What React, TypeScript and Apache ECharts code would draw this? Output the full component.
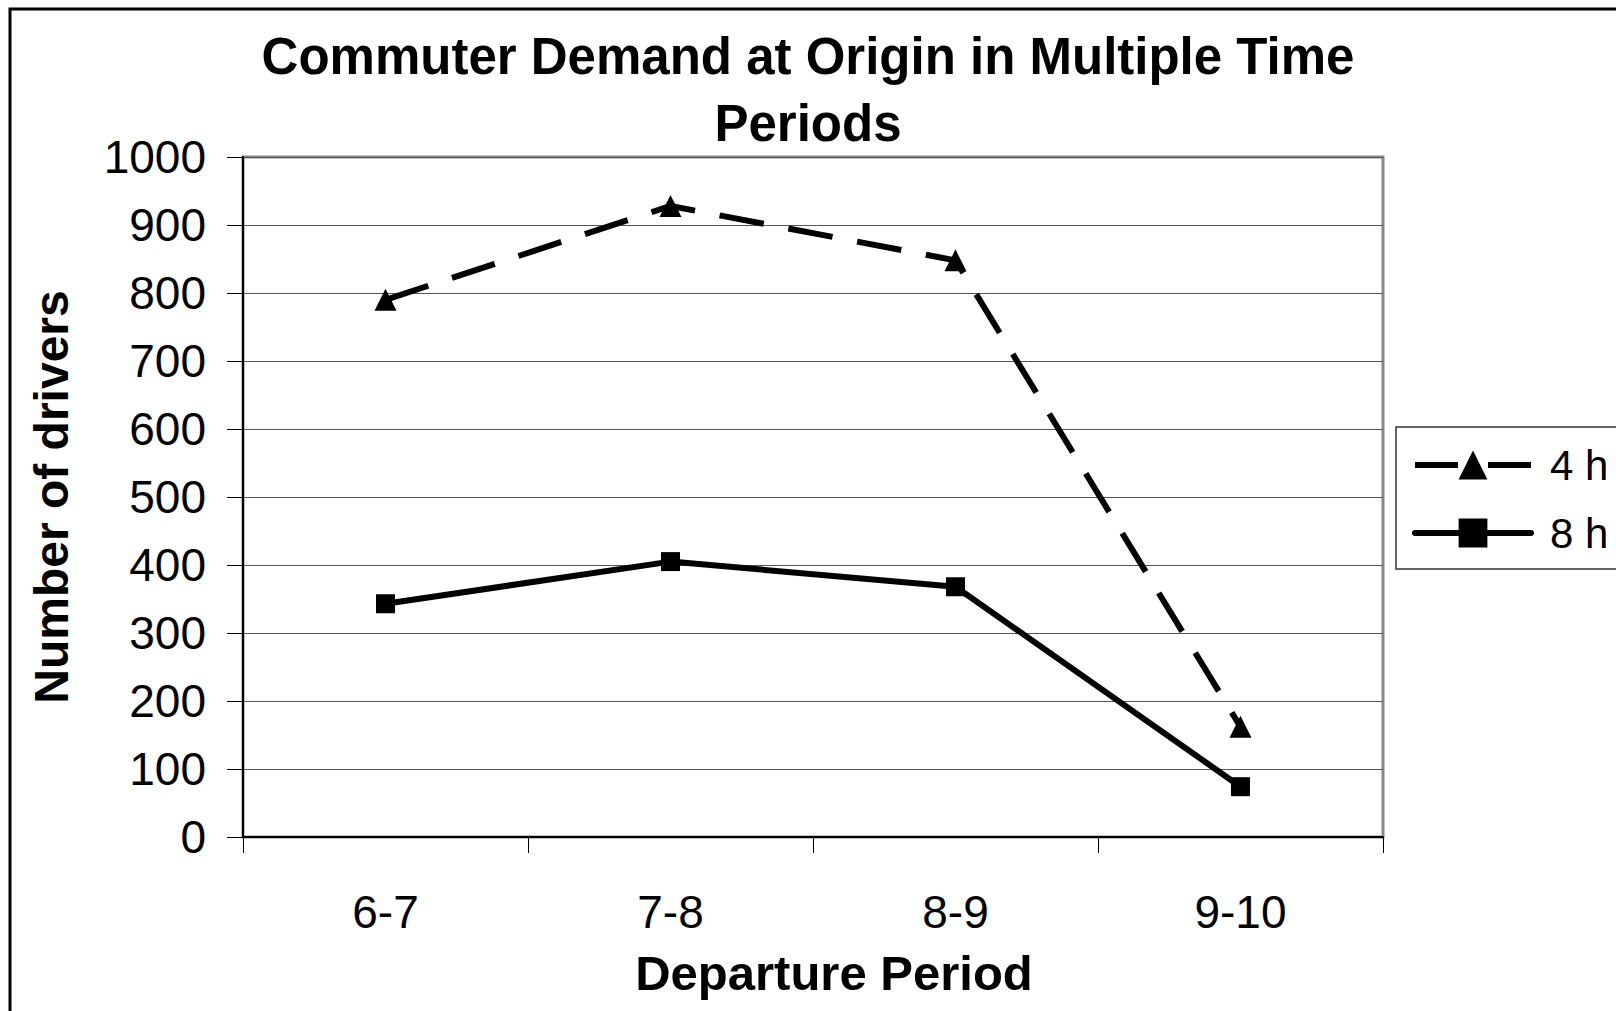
import React, { useEffect, useRef } from "react";
import * as echarts from "echarts";

const categories = ["6-7", "7-8", "8-9", "9-10"];
const series4h = [790, 928, 848, 162];
const series8h = [343, 405, 368, 74];
const seriesNames = ["4 h", "8 h"];
const titleText = "Commuter Demand at Origin in Multiple Time\nPeriods";
const xAxisTitle = "Departure Period";
const yAxisTitle = "Number of drivers";

const FONT = "'Liberation Sans', Arial, Helvetica, sans-serif";

export default function App() {
  const ref = useRef<HTMLDivElement>(null);
  useEffect(() => {
    if (!ref.current) return;
    const chart = echarts.init(ref.current, null, { renderer: "svg" });
    chart.setOption({
      animation: false,
      backgroundColor: "#ffffff",
      textStyle: { fontFamily: FONT, color: "#000" },
      title: {
        text: titleText,
        left: "center",
        top: 18,
        textStyle: {
          fontFamily: FONT,
          fontSize: 51,
          fontWeight: "bold",
          color: "#000",
          lineHeight: 67,
        },
      },
      graphic: [
        {
          type: "rect",
          z: -10,
          shape: { x: 10, y: 9, width: 1700, height: 1100 },
          style: { fill: "none", stroke: "#000", lineWidth: 3 },
        },
      ],
      legend: {
        orient: "vertical",
        left: 1396,
        top: 427,
        padding: [17, 40, 15, 16],
        itemGap: 26,
        itemWidth: 116,
        itemHeight: 36,
        borderColor: "#333",
        borderWidth: 1.5,
        textStyle: {
          fontFamily: FONT,
          fontSize: 42,
          lineHeight: 42,
          color: "#000",
          padding: [0, 0, 0, 14],
        },
        data: [
          {
            name: seriesNames[0],
            lineStyle: { color: "#000", width: 6, type: [43, 30], cap: "butt" },
          },
          {
            name: seriesNames[1],
            lineStyle: { color: "#000", width: 6, type: "solid", cap: "round" },
          },
        ],
      },
      grid: {
        left: 243,
        top: 157,
        right: 233,
        bottom: 174,
        show: true,
        borderColor: "#888",
        borderWidth: 3,
        backgroundColor: "transparent",
      },
      xAxis: {
        type: "category",
        data: categories,
        boundaryGap: true,
        axisLine: { show: true, lineStyle: { color: "#000", width: 2 } },
        axisTick: { show: true, length: 16, lineStyle: { color: "#000", width: 1 } },
        axisLabel: { fontFamily: FONT, fontSize: 46, color: "#000", margin: 52 },
        splitLine: { show: false },
        name: xAxisTitle,
        nameLocation: "middle",
        nameGap: 111,
        nameTextStyle: {
          fontFamily: FONT,
          fontSize: 49,
          fontWeight: "bold",
          color: "#000",
          padding: [0, 0, 0, 42],
        },
      },
      yAxis: {
        type: "value",
        min: 0,
        max: 1000,
        interval: 100,
        axisLine: { show: true, lineStyle: { color: "#000", width: 2 } },
        axisTick: { show: true, length: 16, lineStyle: { color: "#000", width: 1 } },
        axisLabel: {
          fontFamily: FONT,
          fontSize: 46,
          color: "#000",
          margin: 37,
          formatter: (v: number) => String(v),
        },
        splitLine: { show: true, lineStyle: { color: "#555", width: 1 } },
        name: yAxisTitle,
        nameLocation: "middle",
        nameGap: 168,
        nameTextStyle: {
          fontFamily: FONT,
          fontSize: 48,
          fontWeight: "bold",
          color: "#000",
        },
      },
      series: [
        {
          name: seriesNames[0],
          type: "line",
          data: series4h,
          symbol: "triangle",
          symbolSize: 22,
          itemStyle: { color: "#000" },
          lineStyle: { color: "#000", width: 6, type: [45, 25], cap: "butt" },
          z: 3,
        },
        {
          name: seriesNames[1],
          type: "line",
          data: series8h,
          symbol: "rect",
          symbolSize: 19,
          itemStyle: { color: "#000" },
          lineStyle: { color: "#000", width: 6, type: "solid" },
          z: 3,
        },
      ],
    });
    return () => chart.dispose();
  }, []);
  return (
    <div
      ref={ref}
      style={{ position: "absolute", left: 0, top: 0, width: 1616, height: 1011 }}
    />
  );
}
